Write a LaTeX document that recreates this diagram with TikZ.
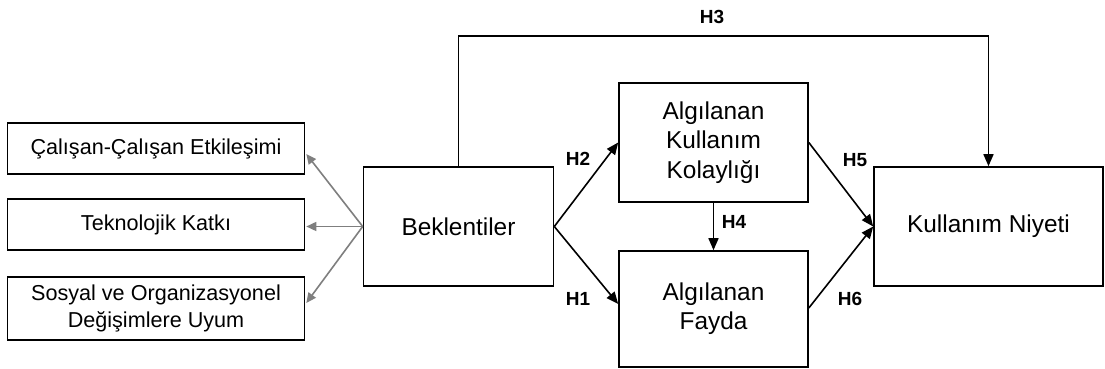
\documentclass[tikz,border=0pt]{standalone}
\usepackage{fontspec}
\setmainfont{Liberation Sans}
\usetikzlibrary{arrows.meta,calc}
\definecolor{arrgray}{HTML}{7F7F7F}
\tikzset{
  box/.style={draw=black, line width=0.8pt, align=center, inner sep=0pt, font=\fontsize{12.2}{14.6}\selectfont},
  lbox/.style={draw=black, line width=0.8pt, align=center, inner sep=0pt, minimum width=148.5pt, font=\fontsize{10.8}{13.2}\selectfont},
  blk/.style={line width=0.8pt, -{Triangle[length=6pt,width=5pt]}},
  gry/.style={draw=arrgray, line width=0.8pt, -{Triangle[length=5pt,width=4.5pt]}},
  hlab/.style={font=\fontsize{9.5}{11}\selectfont\bfseries, inner sep=0pt}
}
\begin{document}
\begin{tikzpicture}[x=0.5pt,y=-0.5pt]
\useasboundingbox (0,0) rectangle (1105,369);
% left boxes
\node[lbox, minimum height=25.5pt] (c1) at (156,148.5) {Çalışan-Çalışan Etkileşimi};
\node[lbox, minimum height=25.5pt] (c2) at (156,224.5) {Teknolojik Katkı};
\node[lbox, minimum height=31.5pt] (c3) at (156,308.5) {Sosyal ve Organizasyonel\\Değişimlere Uyum};
% main boxes
\node[box, minimum width=95pt, minimum height=59.5pt] (bek) at (458.5,226.5) {Beklentiler};
\node[box, minimum width=94.5pt, minimum height=59.5pt] (akk) at (713.5,142.5) {Algılanan\\Kullanım\\Kolaylığı};
\node[box, minimum width=94.5pt, minimum height=58pt] (af) at (713.5,309) {Algılanan\\Fayda};
\node[box, minimum width=114.5pt, minimum height=59.5pt] (kn) at (988.5,226.5) {Kullanım Niyeti};
% gray arrows
\draw[gry] (bek.west) -- ($(c1.east)+(1,5.5)$);
\draw[gry] (bek.west) -- ($(c2.east)+(1,2)$);
\draw[gry] (bek.west) -- ($(c3.east)+(1,-5.5)$);
% black arrows
\coordinate (h3a) at ($(bek.north)$);
\coordinate (h3top) at (458.5,36);
\draw[blk] (bek.north) -- (bek.north |- h3top) -- (kn.north |- h3top) -- (kn.north);
\draw[blk] (bek.east) -- (akk.west);
\draw[blk] (bek.east) -- ($(af.west)+(0,-5)$);
\draw[blk] (akk.south) -- (af.north);
\draw[blk] (akk.east) -- (kn.west);
\draw[blk] ($(af.east)+(0,-1)$) -- (kn.west);
% labels
\node[hlab] (lh3) at (712,17) {H3};
\node[hlab] (lh2) at (578,159) {H2};
\node[hlab] (lh1) at (578,299) {H1};
\node[hlab] (lh4) at (734,222) {H4};
\node[hlab] (lh5) at (855,160) {H5};
\node[hlab] (lh6) at (850,299) {H6};
\end{tikzpicture}
\end{document}
